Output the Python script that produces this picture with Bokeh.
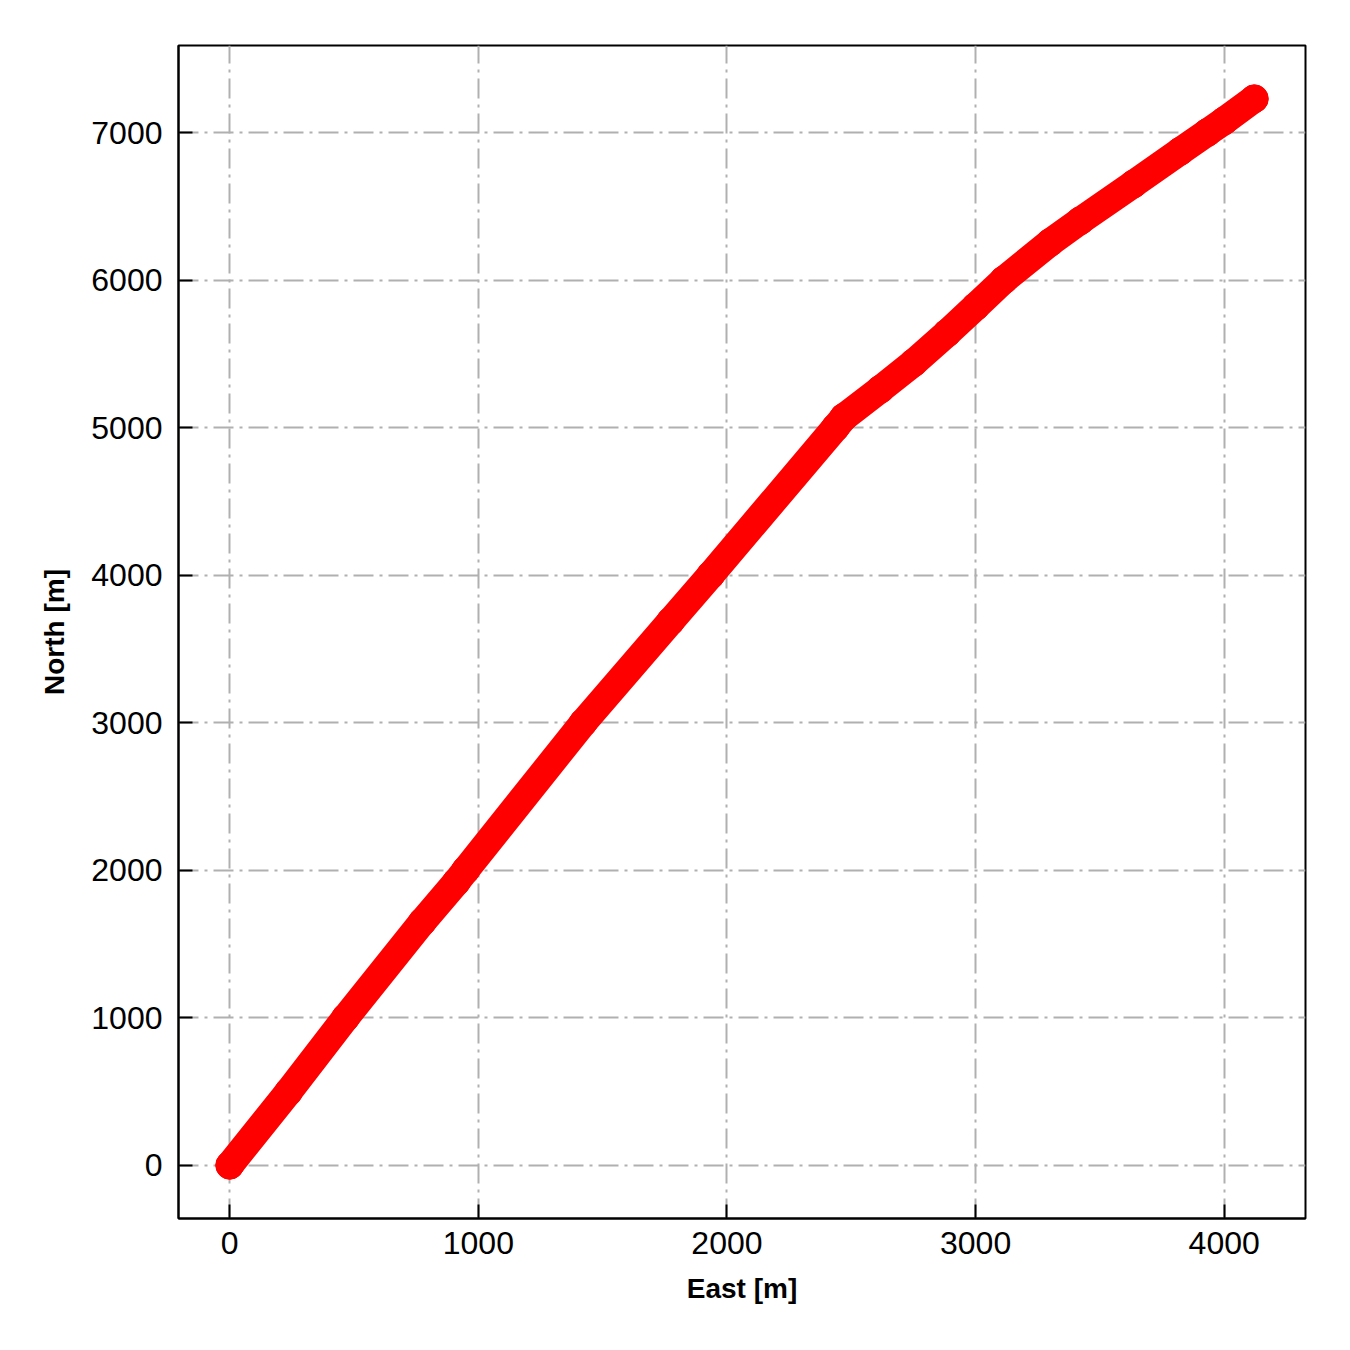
from bokeh.plotting import figure
from bokeh.models import Range1d, FixedTicker, ColumnDataSource
from bokeh.embed import file_html
from bokeh.resources import INLINE

# Track (East, North in metres)
east = [0, 236, 466, 775, 912, 949, 1422, 1773, 1934, 2436, 2470, 2617,
        2751, 2885, 3000, 3113, 3300, 3421, 3635, 3823, 3932, 4000, 4121]
north = [0, 496, 1000, 1650, 1921, 2000, 3000, 3687, 4000, 5000, 5070, 5260,
         5440, 5640, 5820, 6000, 6255, 6402, 6651, 6873, 7000, 7079, 7229]

x_ticks = [0, 1000, 2000, 3000, 4000]
y_ticks = [0, 1000, 2000, 3000, 4000, 5000, 6000, 7000]

src = ColumnDataSource(dict(east=east, north=north))

p = figure(width=1342, height=1342,
           x_range=Range1d(-206, 4327), y_range=Range1d(-361, 7590),
           output_backend="svg", toolbar_location=None,
           min_border_left=178, min_border_right=37,
           min_border_top=45, min_border_bottom=124)

p.background_fill_color = "white"
p.border_fill_color = "white"
p.outline_line_color = "black"
p.outline_line_width = 2
p.outline_line_alpha = 1

for ax in (p.xaxis, p.yaxis):
    ax.axis_line_width = 2
    ax.axis_line_color = "black"
    ax.major_tick_in = 14
    ax.major_tick_out = 0
    ax.major_tick_line_width = 2
    ax.major_tick_line_color = "black"
    ax.minor_tick_line_color = None
    ax.major_label_text_font = "Liberation Sans"
    ax.major_label_text_font_size = "32px"
    ax.major_label_text_color = "black"
    ax.axis_label_text_font = "Liberation Sans"
    ax.axis_label_text_font_size = "28px"
    ax.axis_label_text_font_style = "bold"
    ax.axis_label_text_color = "black"

p.xaxis.ticker = FixedTicker(ticks=x_ticks)
p.yaxis.ticker = FixedTicker(ticks=y_ticks)
p.xaxis.axis_label = "East [m]"
p.yaxis.axis_label = "North [m]"
p.xaxis.major_label_standoff = 13
p.yaxis.major_label_standoff = 16
p.xaxis.axis_label_standoff = 16
p.yaxis.axis_label_standoff = 18

for g in (p.xgrid, p.ygrid):
    g.grid_line_color = "#b0b0b0"
    g.grid_line_width = 2
    g.grid_line_dash = "20 6 3 6"

p.line("east", "north", source=src, line_width=28, line_color="#ff0000",
       line_cap="round", line_join="round")
p.scatter("east", "north", source=src, size=28, fill_color="#ff0000",
          line_color="#ff0000", marker="circle")

open("out.html", "w").write(file_html(p, INLINE))
